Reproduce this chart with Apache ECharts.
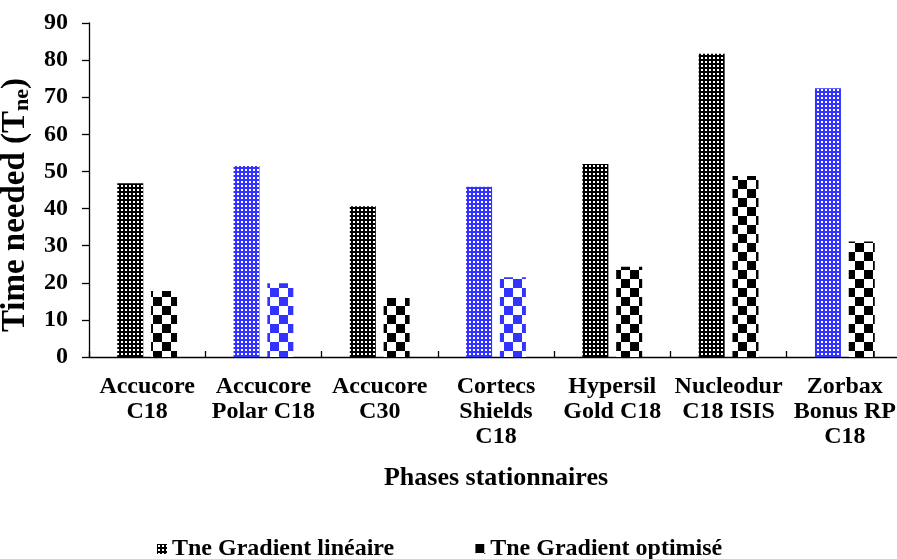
<!DOCTYPE html>
<html>
<head>
<meta charset="utf-8">
<script src="https://cdn.jsdelivr.net/npm/echarts@6/dist/echarts.min.js"></script>
<style>html,body{margin:0;padding:0;background:#fff;}#chart{width:897px;height:559px;}</style>
</head>
<body>
<div id="chart"></div>
<script>
const categories = ['Accucore\nC18', 'Accucore\nPolar C18', 'Accucore\nC30', 'Cortecs\nShields\nC18', 'Hypersil\nGold C18', 'Nucleodur\nC18 ISIS', 'Zorbax\nBonus RP\nC18'];
const seriesNames = ['Tne Gradient linéaire', 'Tne Gradient optimisé'];
const linearValues = [46.8, 51.5, 40.6, 45.9, 52.0, 81.7, 72.4];
const optimizedValues = [17.8, 19.9, 15.9, 21.5, 24.3, 48.8, 31.1];
const linearBlue = [false, true, false, true, false, false, true];
const optimizedBlue = [false, true, false, true, false, false, false];
const yTicks = [0, 10, 20, 30, 40, 50, 60, 70, 80, 90];

function dotPattern(color) {
  const c = document.createElement('canvas');
  c.width = 4; c.height = 4;
  const g = c.getContext('2d');
  g.fillStyle = color; g.fillRect(0, 0, 4, 4);
  g.fillStyle = '#ffffff'; g.fillRect(1, 1, 2, 2);
  return { image: c, repeat: 'repeat' };
}
function checkPattern(color) {
  const s = 9;
  const c = document.createElement('canvas');
  c.width = 2 * s; c.height = 2 * s;
  const g = c.getContext('2d');
  g.fillStyle = '#ffffff'; g.fillRect(0, 0, 2 * s, 2 * s);
  g.fillStyle = color; g.fillRect(0, 0, s, s); g.fillRect(s, s, s, s);
  return { image: c, repeat: 'repeat' };
}
const BLUE = '#3333ff';
const dotBlack = dotPattern('#000000'), dotBlue = dotPattern(BLUE);
const chkBlack = checkPattern('#000000'), chkBlue = checkPattern(BLUE);

const font = 'Liberation Serif';
const chart = echarts.init(document.getElementById('chart'), null, { renderer: 'canvas' });
chart.setOption({
  animation: false,
  backgroundColor: '#ffffff',
  grid: { left: 89, right: -6, top: 23, bottom: 202, containLabel: false, outerBoundsMode: 'none' },
  legend: {
    left: 152, top: 532,
    itemWidth: 10, itemHeight: 10, itemGap: 81,
    icon: 'rect',
    textStyle: { fontFamily: font, fontWeight: 'bold', fontSize: 24, color: '#000' },
    data: seriesNames
  },
  xAxis: {
    type: 'category',
    data: categories,
    name: 'Phases stationnaires',
    nameLocation: 'middle', nameGap: 108,
    nameTextStyle: { fontFamily: font, fontWeight: 'bold', fontSize: 26, color: '#000' },
    axisLine: { lineStyle: { color: '#000', width: 1.3 } },
    axisTick: { show: true, inside: true, length: 6, alignWithLabel: false, lineStyle: { color: '#000', width: 1.3 } },
    axisLabel: { fontFamily: font, fontWeight: 'bold', fontSize: 24, color: '#000', lineHeight: 25, margin: 17, interval: 0 }
  },
  yAxis: {
    type: 'value', min: 0, max: 90, interval: 10,
    name: '{a|Time needed (T}{b|ne}{a|)}',
    nameLocation: 'middle', nameGap: 38, nameRotate: 90,
    nameTextStyle: {
      padding: [0, 30, 0, 0],
      rich: {
        a: { fontFamily: font, fontWeight: 'bold', fontSize: 33, color: '#000' },
        b: { fontFamily: font, fontWeight: 'bold', fontSize: 22, color: '#000', verticalAlign: 'bottom', padding: [14, 0, 0, 0] }
      }
    },
    splitLine: { show: false },
    axisLine: { show: true, lineStyle: { color: '#000', width: 1.3 } },
    axisTick: { show: true, length: 7, lineStyle: { color: '#000', width: 1.3 } },
    axisLabel: { fontFamily: font, fontWeight: 'bold', fontSize: 24, color: '#000', margin: 21,
      formatter: v => yTicks.includes(v) ? String(v) : '' }
  },
  series: [
    {
      name: seriesNames[0], type: 'bar', barWidth: 26, barGap: '30%',
      itemStyle: { color: dotBlack },
      data: linearValues.map((v, i) => ({ value: v, itemStyle: { color: linearBlue[i] ? dotBlue : dotBlack } }))
    },
    {
      name: seriesNames[1], type: 'bar', barWidth: 26,
      itemStyle: { color: chkBlack },
      data: optimizedValues.map((v, i) => ({ value: v, itemStyle: { color: optimizedBlue[i] ? chkBlue : chkBlack } }))
    }
  ]
});
</script>
</body>
</html>
